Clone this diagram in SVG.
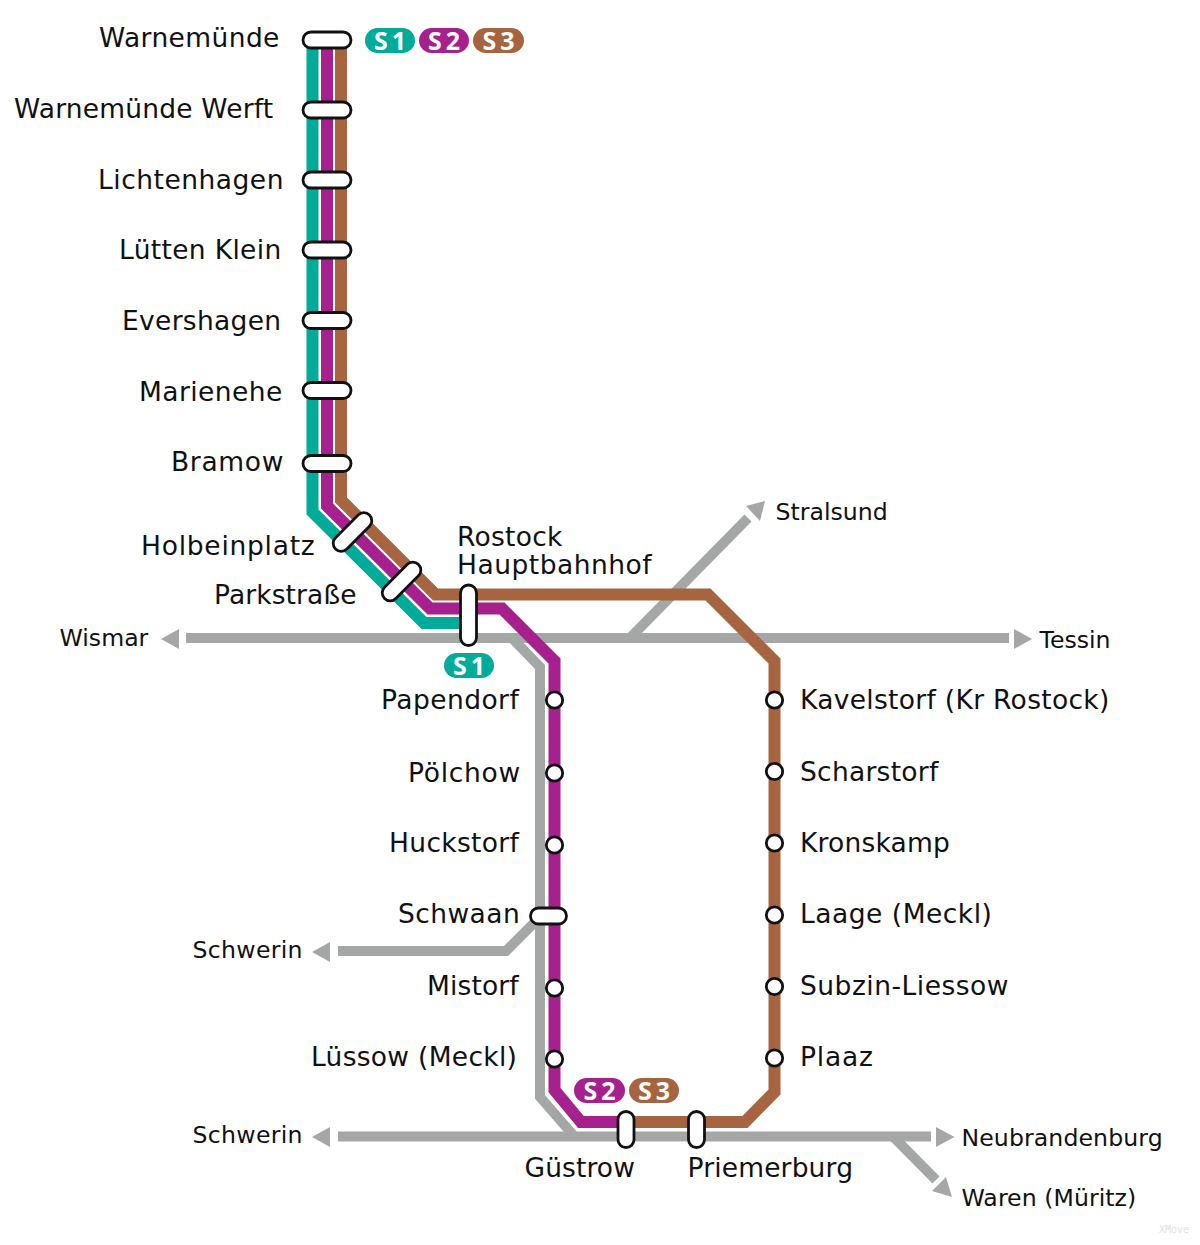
<svg xmlns="http://www.w3.org/2000/svg" width="1200" height="1245" viewBox="0 0 1200 1245">
<style>
.l{fill:none;stroke-linejoin:miter}
.g{stroke:#a5a7a6;stroke-width:10}
.s1{stroke:#00ab9a;stroke-width:12}
.s2{stroke:#a6218e;stroke-width:12}
.s3{stroke:#a66540;stroke-width:12}
.a{fill:#a5a7a6}
.st{fill:#fff;stroke:#111;stroke-width:2.8}
text{font-family:"DejaVu Sans",sans-serif;fill:#111}
.n{font-size:26.5px}
.m{font-size:23.600px}
.b{font-family:"Open Sans","Noto Sans",sans-serif;font-weight:700;font-size:25px;fill:#fff;text-anchor:middle;letter-spacing:4px}
.x{font-family:"DejaVu Sans Mono",monospace;font-size:10px;fill:#e2e2e2}
</style>
<rect width="1200" height="1245" fill="#fff"/>
<g id="connectors">
<path class="l g" d="M186 638H1009"/>
<path class="l g" d="M512 638L540 667V1097L574 1136"/>
<path class="l g" d="M630 638L748 518"/>
<path class="l g" d="M338 951H506L540 917"/>
<path class="l g" d="M338 1136.500H931"/>
<path class="l g" d="M893 1136.500L936 1180"/>
<path class="a" d="M179 629V649L161 639Z"/>
<path class="a" d="M1014 629V649L1032 639Z"/>
<path class="a" d="M746 506L765 501L760 521Z"/>
<path class="a" d="M330 942V962L312 952Z"/>
<path class="a" d="M330 1127V1147L312 1137Z"/>
<path class="a" d="M936 1127V1147L954.500 1137Z"/>
<path class="a" d="M932 1191L946 1177L952 1197Z"/>
<path class="l s1" d="M312.500 40V512L424 623H468"/>
<path class="l s2" d="M327 40V506L430 608.500H502L554.500 661V1090L581 1122H626"/>
<path class="l s3" d="M341 40V500L435.500 594.500H708L774.500 661V1092L745 1122H626"/>
</g>
<g id="warnemuende"><rect class="st" x="303" y="32" width="48" height="16" rx="8"/><text class="n" x="99" y="47" letter-spacing=".4">Warnemünde</text></g>
<g id="warnemuende-werft"><rect class="st" x="303" y="102" width="48" height="16" rx="8"/><text class="n" x="14" y="118" letter-spacing=".19">Warnemünde Werft</text></g>
<g id="lichtenhagen"><rect class="st" x="303" y="172" width="48" height="16" rx="8"/><text class="n" x="98" y="189" letter-spacing=".5">Lichtenhagen</text></g>
<g id="luetten-klein"><rect class="st" x="303" y="242" width="48" height="16" rx="8"/><text class="n" x="119" y="259" letter-spacing=".33">Lütten Klein</text></g>
<g id="evershagen"><rect class="st" x="303" y="312.500" width="48" height="16" rx="8"/><text class="n" x="122" y="330" letter-spacing=".3">Evershagen</text></g>
<g id="marienehe"><rect class="st" x="303" y="382.500" width="48" height="16" rx="8"/><text class="n" x="139" y="401" letter-spacing=".44">Marienehe</text></g>
<g id="bramow"><rect class="st" x="303" y="455.500" width="48" height="16" rx="8"/><text class="n" x="171" y="471" letter-spacing=".67">Bramow</text></g>
<g id="holbeinplatz"><rect class="st" x="328.500" y="524" width="48" height="16" rx="8" transform="rotate(-45 352.500 532)"/><text class="n" x="141" y="555" letter-spacing=".75">Holbeinplatz</text></g>
<g id="parkstrasse"><rect class="st" x="377.500" y="573.500" width="48" height="16" rx="8" transform="rotate(-45 401.500 581.500)"/><text class="n" x="214" y="604" letter-spacing=".1">Parkstraße</text></g>
<g id="rostock-hbf"><rect class="st" x="460.500" y="585" width="16" height="60.500" rx="8"/><text class="n" x="457" y="546" letter-spacing=".28">Rostock</text><text class="n" x="457" y="574" letter-spacing=".5">Hauptbahnhof</text></g>
<g id="papendorf"><circle class="st" cx="554.500" cy="700" r="8.200"/><text class="n" x="381" y="709" letter-spacing=".44">Papendorf</text></g>
<g id="poelchow"><circle class="st" cx="554.500" cy="773" r="8.200"/><text class="n" x="408" y="782" letter-spacing=".7">Pölchow</text></g>
<g id="huckstorf"><circle class="st" cx="554.500" cy="845" r="8.200"/><text class="n" x="389" y="852" letter-spacing=".33">Huckstorf</text></g>
<g id="schwaan"><rect class="st" x="530.500" y="908" width="36" height="16" rx="8"/><text class="n" x="398" y="923" letter-spacing=".43">Schwaan</text></g>
<g id="mistorf"><circle class="st" cx="554.500" cy="988" r="8.200"/><text class="n" x="427" y="995" letter-spacing=".14">Mistorf</text></g>
<g id="luessow"><circle class="st" cx="554.500" cy="1059" r="8.200"/><text class="n" x="311" y="1066" letter-spacing=".29">Lüssow (Meckl)</text></g>
<g id="kavelstorf"><circle class="st" cx="774.500" cy="700" r="8.200"/><text class="n" x="800" y="709" letter-spacing=".3">Kavelstorf (Kr Rostock)</text></g>
<g id="scharstorf"><circle class="st" cx="774.500" cy="771.500" r="8.200"/><text class="n" x="800" y="781" letter-spacing=".25">Scharstorf</text></g>
<g id="kronskamp"><circle class="st" cx="774.500" cy="843" r="8.200"/><text class="n" x="800" y="852" letter-spacing=".2">Kronskamp</text></g>
<g id="laage"><circle class="st" cx="774.500" cy="915" r="8.200"/><text class="n" x="800" y="923" letter-spacing=".5">Laage (Meckl)</text></g>
<g id="subzin"><circle class="st" cx="774.500" cy="986.500" r="8.200"/><text class="n" x="800" y="995" letter-spacing=".5">Subzin-Liessow</text></g>
<g id="plaaz"><circle class="st" cx="774.500" cy="1058" r="8.200"/><text class="n" x="800" y="1066" letter-spacing=".8">Plaaz</text></g>
<g id="guestrow"><rect class="st" x="618" y="1111.500" width="16" height="36" rx="8"/><text class="n" x="524.500" y="1177" letter-spacing=".1">Güstrow</text></g>
<g id="priemerburg"><rect class="st" x="688.500" y="1111.500" width="16" height="36" rx="8"/><text class="n" x="687.500" y="1177" letter-spacing=".15">Priemerburg</text></g>
<g id="destinations">
<text class="m" x="59.500" y="646">Wismar</text>
<text class="m" x="1039.500" y="648">Tessin</text>
<text class="m" x="775.500" y="520">Stralsund</text>
<text class="m" x="192.500" y="958" letter-spacing=".3">Schwerin</text>
<text class="m" x="192.500" y="1143" letter-spacing=".3">Schwerin</text>
<text class="m" x="961.500" y="1146" letter-spacing=".1">Neubrandenburg</text>
<text class="m" x="961.500" y="1206" letter-spacing=".05">Waren (Müritz)</text>
</g>
<g id="badges">
<rect x="365" y="28" width="50" height="25" rx="12.500" fill="#00ab9a"/><text class="b" x="392" y="49.500">S1</text>
<rect x="419" y="28" width="50" height="25" rx="12.500" fill="#a6218e"/><text class="b" x="446" y="49.500">S2</text>
<rect x="473" y="28" width="51" height="25" rx="12.500" fill="#a66540"/><text class="b" x="500.500" y="49.500">S3</text>
<rect x="444" y="653" width="50" height="25" rx="12.500" fill="#00ab9a"/><text class="b" x="471" y="674.500">S1</text>
<rect x="574" y="1078" width="51" height="25" rx="12.500" fill="#a6218e"/><text class="b" x="601.500" y="1099.500">S2</text>
<rect x="629" y="1078" width="50" height="25" rx="12.500" fill="#a66540"/><text class="b" x="656" y="1099.500">S3</text>
</g>
<text class="x" x="1159" y="1233">XMove</text>
</svg>
